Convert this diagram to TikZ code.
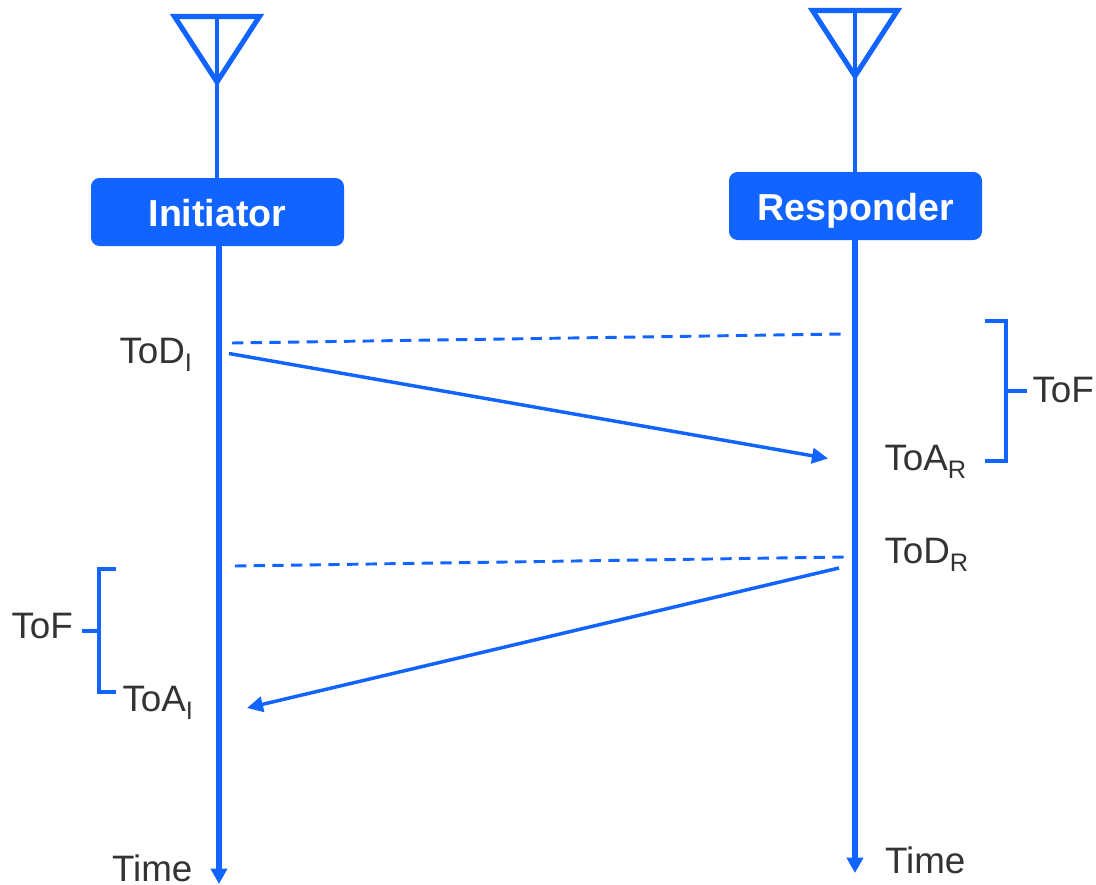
\documentclass[tikz,border=0pt]{standalone}
\usepackage{fontspec}
\setmainfont{Liberation Sans}
\usetikzlibrary{arrows.meta}
\definecolor{blu}{HTML}{1164FF}
\definecolor{ink}{HTML}{333333}
\newcommand{\subt}[1]{\raisebox{-6.5pt}{\fontsize{19pt}{19pt}\selectfont #1}}
\tikzset{
  every node/.style={inner sep=0pt,outer sep=0pt},
  lbl/.style={anchor=base west,text=ink,font=\fontsize{27.6pt}{30pt}\selectfont},
  actor/.style={fill=blu,rounded corners=6.5pt,minimum width=189.75pt,minimum height=51pt,text=white,text height=22pt,text depth=0pt,font=\fontsize{28.2pt}{30pt}\selectfont\bfseries},
  ant/.style={draw=blu,line width=3.8pt,line join=miter},
  stem/.style={draw=blu,line width=3.6pt},
  life/.style={draw=blu,line width=3.9pt,-{Triangle[length=11.5pt,width=12pt]}},
  msg/.style={draw=blu,line width=2.6pt,-{Triangle[length=12pt,width=11.5pt]}},
  ref/.style={draw=blu,line width=2.2pt,dash pattern=on 8.5pt off 5.5pt},
  brk/.style={draw=blu,line width=2.6pt},
}
\begin{document}
\begin{tikzpicture}[x=0.75pt,y=-0.75pt]
\useasboundingbox (0,0) rectangle (1096,885);
% actors
\node[actor] (ini) at (217.5,212) {Initiator};
\node[actor] (res) at (855.5,206) {Responder};
% antennas
\coordinate (a1l) at (174.5,16.5); \coordinate (a1r) at (259.5,16.5); \coordinate (a1b) at (217,82);
\coordinate (a2l) at (812.5,10.5); \coordinate (a2r) at (897.5,10.5); \coordinate (a2b) at (855,76);
\draw[ant] (a1l) -- (a1r) -- (a1b) -- cycle;
\draw[ant] (a2l) -- (a2r) -- (a2b) -- cycle;
\draw[stem] (a1b |- a1l) -- (a1b) -- (a1b |- ini.north);
\draw[stem] (a2b |- a2l) -- (a2b) -- (a2b |- res.north);
% lifelines
\coordinate (e1) at (219,884); \coordinate (e2) at (855,873);
\draw[life] (e1 |- ini.south) -- (e1);
\draw[life] (e2 |- res.south) -- (e2);
% references and messages
\coordinate (d1a) at (232,343); \coordinate (d1b) at (842,334);
\coordinate (d2a) at (235,566); \coordinate (d2b) at (845,557);
\coordinate (m1a) at (229,353.5); \coordinate (m1b) at (828,458.5);
\coordinate (m2a) at (839,568); \coordinate (m2b) at (247,708);
\draw[ref] (d1a) -- (d1b);
\draw[ref] (d2a) -- (d2b);
\draw[msg] (m1a) -- (m1b);
\draw[msg] (m2a) -- (m2b);
% brackets
\coordinate (b1a) at (985,321); \coordinate (b1b) at (1006,321); \coordinate (b1c) at (1006,461); \coordinate (b1d) at (985,461);
\coordinate (b1m) at (1006,391); \coordinate (b1t) at (1027,391);
\coordinate (b2a) at (116,569); \coordinate (b2b) at (99,569); \coordinate (b2c) at (99,692); \coordinate (b2d) at (116,692);
\coordinate (b2m) at (99,631); \coordinate (b2t) at (82,631);
\draw[brk] (b1a) -- (b1b) -- (b1c) -- (b1d);
\draw[brk] (b1m) -- (b1t);
\draw[brk] (b2a) -- (b2b) -- (b2c) -- (b2d);
\draw[brk] (b2m) -- (b2t);
% labels
\node[lbl] (todi) at (119.5,363) {ToD\subt{I}};
\node[lbl] (toar) at (884.5,470) {ToA\subt{R}};
\node[lbl] (todr) at (884.5,563) {ToD\subt{R}};
\node[lbl] (toai) at (122.5,711) {ToA\subt{I}};
\node[lbl] (tof1) at (1032.5,402) {ToF};
\node[lbl] (tof2) at (11.5,638) {ToF};
\node[lbl] (time1) at (112,881) {Time};
\node[lbl] (time2) at (885,873) {Time};
\end{tikzpicture}
\end{document}
